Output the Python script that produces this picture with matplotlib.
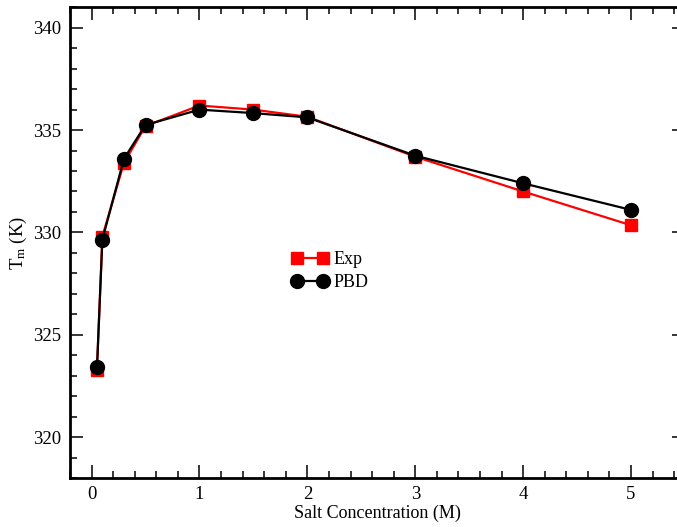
import numpy as np
import matplotlib
matplotlib.use("Agg")
import matplotlib.pyplot as plt
from matplotlib.ticker import MultipleLocator

# salt concentration (M) and melting temperature (K)
salt = [0.05, 0.1, 0.3, 0.5, 1.0, 1.5, 2.0, 3.0, 4.0, 5.0]
tm_exp = [323.3, 329.8, 333.4, 335.2, 336.2, 336.0, 335.65, 333.7, 332.0, 330.35]
tm_pbd = [323.4, 329.65, 333.6, 335.25, 336.0, 335.83, 335.62, 333.75, 332.4, 331.1]

plt.rcParams['font.family'] = ['Liberation Serif', 'DejaVu Serif']
plt.rcParams['mathtext.fontset'] = 'custom'
plt.rcParams['mathtext.rm'] = 'Liberation Serif'
plt.rcParams['mathtext.it'] = 'Liberation Serif'

W, H = 677, 527
fig = plt.figure(figsize=(W / 100, H / 100), dpi=100)
# axes in pixel coords: left 70, right 685 (clipped), top 7, bottom 478
ax = fig.add_axes([70 / W, (H - 478) / H, (685 - 70) / W, (478 - 7.3) / H])

ax.plot(salt, tm_exp, color="red", linewidth=1.6, marker="s", markersize=8.8,
        label="Exp", zorder=2)
ax.plot(salt, tm_pbd, color="black", linewidth=1.6, marker="o", markersize=10,
        label="PBD", zorder=3)

ax.set_xlim(-0.2, 5.5)
ax.set_ylim(318, 341)
ax.xaxis.set_major_locator(MultipleLocator(1))
ax.xaxis.set_minor_locator(MultipleLocator(0.2))
ax.yaxis.set_major_locator(MultipleLocator(5))
ax.yaxis.set_minor_locator(MultipleLocator(1))
ax.tick_params(which="both", direction="in", top=True, right=True, labelsize=13.5, width=1.1)
ax.tick_params(which="major", length=9.5, pad=6)
ax.tick_params(which="minor", length=4.8)
for s in ax.spines.values():
    s.set_linewidth(2)

ax.set_xlabel("Salt Concentration (M)", fontsize=13, labelpad=1)
ax.set_ylabel(r"T$_{\rm m}$ (K)", fontsize=13.5, labelpad=3)

ax.legend(loc="upper left", bbox_to_anchor=(283 / W, 1 - 242 / H),
          bbox_transform=fig.transFigure, frameon=False, numpoints=2,
          handlelength=2.0, handletextpad=0.3, fontsize=13, borderpad=0,
          labelspacing=0.35)

plt.savefig("out.png", dpi=100)
